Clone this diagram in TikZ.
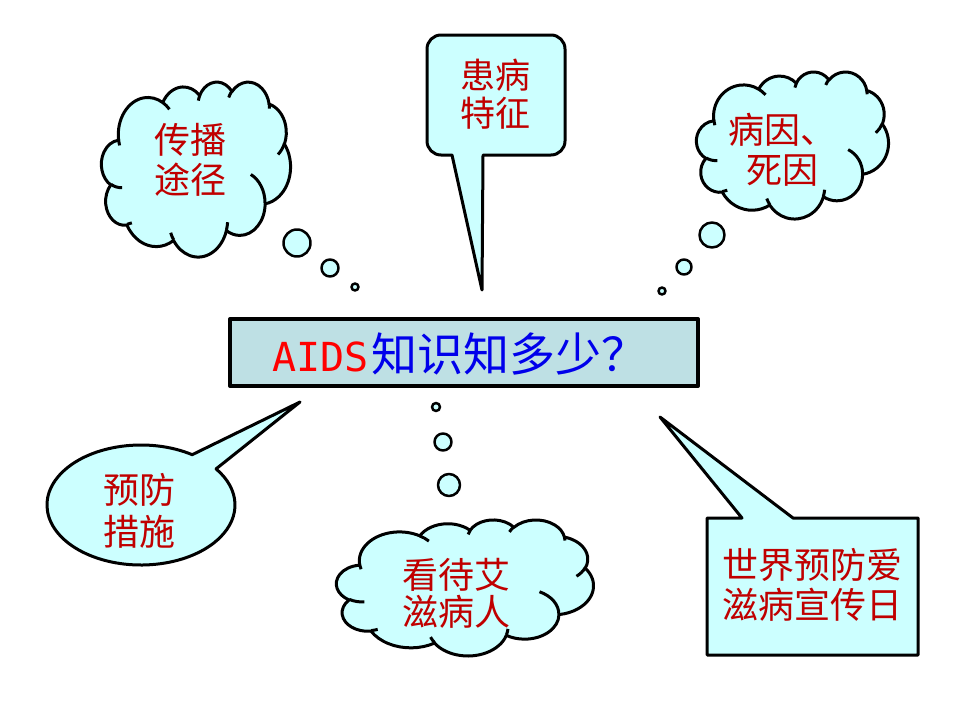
\documentclass[tikz,border=0pt]{standalone}
\usepackage{fontspec}
\setmainfont{Noto Sans CJK SC}
\newfontfamily\latinmono{DejaVu Sans Mono}
\definecolor{txtred}{RGB}{192,0,0}
\definecolor{bubble}{RGB}{204,255,255}
\definecolor{boxfill}{RGB}{190,224,228}
\definecolor{mainblue}{RGB}{0,0,235}
\tikzset{
  ooarc/.code n args={4}{%
    \pgfmathsetmacro\oos{atan2(#1*sin(#3),#2*cos(#3))}%
    \pgfmathsetmacro\ooe{atan2(#1*sin(#3+#4),#2*cos(#3+#4))}%
    \pgfmathsetmacro\ood{mod(\ooe-\oos+720,360)}%
    \edef\ootmp{\noexpand\pgfkeysalso{insert path={arc[start angle=\oos,delta angle=\ood,x radius=#1pt,y radius=#2pt]}}}%
    \ootmp}
}
\newcommand{\pptcloud}[4]{%
  \begin{scope}[shift={(#1,#2)}, xscale=#3/4320, yscale=-#4/4320]
    \draw[outl] (390,1437)
      [ooarc={675.3}{919.0}{-190.4875}{123.7805}]
      [ooarc={533.3}{726.7}{-144.1024}{89.9452}]
      [ooarc={436.5}{594.5}{-145.8079}{99.7230}]
      [ooarc={485.7}{659.5}{-130.9861}{117.2417}]
      [ooarc={533.3}{727.3}{-78.7089}{109.0269}]
      [ooarc={677.5}{922.0}{-46.2673}{130.2690}]
      [ooarc={578.5}{786.7}{0.6250}{114.0333}]
      [ooarc={675.2}{921.5}{22.4516}{115.1726}]
      [ooarc={772.0}{1054.3}{66.2426}{75.7110}]
      [ooarc={436.0}{591.8}{-274.9421}{146.7356}]
      [ooarc={434.5}{594.5}{-246.8285}{152.5189}] -- cycle;
    \draw[draw=black, line width=3pt]
      (469.3,2617.7) [ooarc={434.5}{594.5}{86.7420}{26.4295}]
      (692.8,3489.9) [ooarc={436.0}{591.8}{73.6105}{11.4475}]
      (1647.8,3909.0) [ooarc={675.2}{921.5}{137.6242}{14.0811}]
      (2882.7,3475.1) [ooarc={675.2}{921.5}{6.4533}{15.9984}]
      (3412.9,2295.4) [ooarc={578.5}{786.7}{-70.2924}{70.9174}]
      (4179.8,1535.4) [ooarc={533.3}{727.3}{30.3180}{27.7515}]
      (3832.4,542.6) [ooarc={485.7}{659.5}{-13.7443}{14.8589}]
      (2907.8,395.2) [ooarc={485.7}{659.5}{-149.1815}{18.1954}]
      (2214.1,472.0) [ooarc={436.5}{594.5}{-163.4943}{17.6192}]
      (1400.0,519.2) [ooarc={675.3}{919.0}{-66.7146}{15.0}]
      (412.7,1578.9) [ooarc={675.3}{919.0}{-202.36}{11.87}];
  \end{scope}}
\begin{document}
\begin{tikzpicture}[x=1pt,y=1pt, line join=round,
  outl/.style={draw=black, fill=bubble, line width=3pt},
  dot/.style={outl, circle, inner sep=0pt, line width=2.5pt},
  lbl/.style={text=txtred, font=\fontsize{36}{40}\selectfont, align=center, inner sep=0pt}]
\useasboundingbox (0,0) rectangle (960,-720);
\fill[white] (0,0) rectangle (960,-720);

% top-left cloud
\pptcloud{101.5}{-81.5}{189}{175}
\node[lbl] (t1) at (190,-160) {传播\\途径};
\node[dot, minimum size=27pt] (d1a) at (297,-243) {};
\node[dot, minimum size=17pt] (d1b) at (330,-268) {};
\node[dot, minimum size=7pt] (d1c) at (355,-287) {};

% top-middle callout
\draw[outl] (452,-155) -- (441,-155) arc[start angle=270, end angle=180, radius=14]
  -- (427,-49) arc[start angle=180, end angle=90, radius=14]
  -- (551,-35) arc[start angle=90, end angle=0, radius=14]
  -- (565,-141) arc[start angle=0, end angle=-90, radius=14]
  -- (483,-155) -- (482,-290) -- cycle;
\node[lbl, font=\fontsize{35}{38}\selectfont] (t2) at (495,-94) {患病\\特征};

% top-right cloud
\pptcloud{696.5}{-71.5}{192}{147}
\node[lbl] (t3) at (782,-150) {病因、\\死因};
\node[dot, minimum size=25pt] (d3a) at (712,-235) {};
\node[dot, minimum size=15pt] (d3b) at (684,-267) {};
\node[dot, minimum size=7pt] (d3c) at (662,-291) {};

% central box
\node[draw=black, line width=4pt, fill=boxfill, minimum width=468pt, minimum height=67pt, inner sep=0pt] (main) at (464,-352.5) {};
\node[anchor=base west, inner sep=0pt] (mt) at (272,-371)
  {\textcolor{red}{\latinmono\fontsize{40}{42}\selectfont AIDS}\hspace{3pt}\textcolor{mainblue}{\fontsize{46}{48}\selectfont 知识知多少？}};

% left ellipse callout
\draw[outl] (216.07,-468.89) -- (300,-402) -- (192.2,-454.68)
  arc[start angle=57, end angle=397, x radius=94, y radius=60] -- cycle;
\node[lbl, font=\fontsize{36}{42}\selectfont] (t4) at (139,-511) {预防\\措施};

% bottom cloud
\node[dot, minimum size=8pt] (d5c) at (436,-407) {};
\node[dot, minimum size=17pt] (d5b) at (443,-442) {};
\node[dot, minimum size=22pt] (d5a) at (449,-485) {};
\pptcloud{336.5}{-519.5}{257}{136}
\node[lbl, font=\fontsize{36}{37}\selectfont] (t5) at (456,-593) {看待艾\\滋病人};

% bottom-right callout
\draw[outl] (742,-518) -- (660,-417) -- (793,-518) -- (918,-518) -- (918,-655) -- (707,-655) -- (707,-518) -- cycle;
\node[lbl] (t6) at (812,-585) {世界预防爱\\滋病宣传日};
\end{tikzpicture}
\end{document}
